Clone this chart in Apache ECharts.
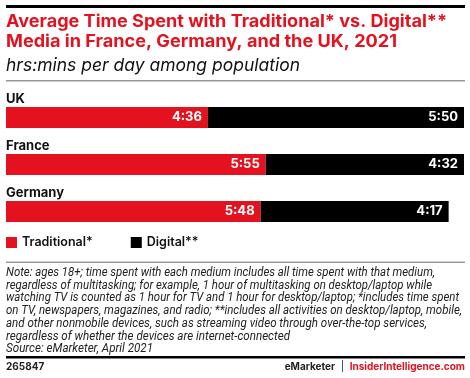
<!DOCTYPE html>
<html><head><meta charset="utf-8">
<script src="https://cdn.jsdelivr.net/npm/echarts@6/dist/echarts.min.js"></script>
<style>html,body{margin:0;padding:0;background:#fff}#c{width:470px;height:378px}</style>
</head><body><div id="c"></div>
<script>
var categories = ['UK', 'France', 'Germany'];
var traditional = [276, 355, 348];   // minutes: 4:36, 5:55, 5:48
var digital = [350, 272, 257];       // minutes: 5:50, 4:32, 4:17
var seriesNames = ['Traditional*', 'Digital**'];
var titleLines = ['Average Time Spent with Traditional* vs. Digital**', 'Media in France, Germany, and the UK, 2021'];
var subtitle = 'hrs:mins per day among population';
var noteLines = [
 'Note: ages 18+; time spent with each medium includes all time spent with that medium,',
 'regardless of multitasking; for example, 1 hour of multitasking on desktop/laptop while',
 'watching TV is counted as 1 hour for TV and 1 hour for desktop/laptop; *includes time spent',
 'on TV, newspapers, magazines, and radio; **includes all activities on desktop/laptop, mobile,',
 'and other nonmobile devices, such as streaming video through over-the-top services,',
 'regardless of whether the devices are internet-connected',
 'Source: eMarketer, April 2021'
];
// layout: right edge (px) of each text line in the reference
var titleRight = [447, 397];
var subtitleRight = 300;
var noteRight = [435, 432, 459, 462, 427, 290, 153];

var RED = '#e3121e';
var FONT = 'Inter, Roboto, sans-serif';
var NFONT = 'Roboto, sans-serif';
function fmt(v){ var h=Math.floor(v/60), m=v%60; return h+':'+(m<10?'0':'')+m; }
var ctx = document.createElement('canvas').getContext('2d');
function fitText(text, font, x, y, right, fill){
  ctx.font = font;
  var w = ctx.measureText(text).width;
  var s = (right - x) / w;
  return {type:'text', x:x, y:y, scaleX:s, originX:0, originY:0,
    style:{text:text, font:font, fill:fill, x:0, y:0, verticalAlign:'top', align:'left'}};
}

var chart = echarts.init(document.getElementById('c'));
var lbl = {show:true, position:'insideRight', distance:6, color:'#fff', fontFamily:FONT, fontWeight:'bold', fontSize:13, formatter:function(p){return fmt(p.value);}};
var graphics = [
 {type:'rect', shape:{x:6,y:5,width:459,height:3}, style:{fill:'#000'}},
 fitText(titleLines[0], 'bold 17px '+FONT, 6, 13, titleRight[0], RED),
 fitText(titleLines[1], 'bold 17px '+FONT, 6, 33, titleRight[1], RED),
 fitText(subtitle, 'italic 17.5px '+FONT, 6, 57, subtitleRight, '#111'),
 {type:'rect', shape:{x:6,y:80,width:459,height:1.5}, style:{fill:'#999'}},
 {type:'rect', shape:{x:6,y:261.5,width:459,height:1.5}, style:{fill:'#999'}},
 {type:'rect', shape:{x:6,y:356,width:459,height:2.5}, style:{fill:'#000'}},
 {type:'text', left:6, top:362, style:{text:'265847', font:'bold 10px '+FONT, fill:'#222'}},
 {type:'text', right:5, top:362, style:{rich:{a:{font:'bold 10px '+FONT, fill:'#222'}, b:{font:'10px '+FONT, fill:'#222'}, c:{font:'bold 10px '+FONT, fill:RED}}, text:'{a|eMarketer}{b|  |  }{c|InsiderIntelligence.com}'}}
];
noteLines.forEach(function(t,i){
 graphics.push(fitText(t, 'italic 12px '+NFONT, 6, 267+i*12.7, noteRight[i], '#222'));
});
chart.setOption({
 animation:false,
 grid:{left:6, width:458, top:94, height:141},
 xAxis:{type:'value', min:0, max:626, show:false},
 yAxis:{type:'category', data:categories, inverse:true, axisLine:{show:false}, axisTick:{show:false},
   axisLabel:{inside:true, margin:0, align:'left', verticalAlign:'bottom', padding:[0,0,12,0], color:'#111', fontFamily:FONT, fontWeight:'bold', fontSize:13}},
 legend:{left:6, top:236, padding:0, itemWidth:11, itemHeight:11, itemGap:38, icon:'rect', textStyle:{fontFamily:FONT, fontSize:12.5, fontWeight:600, color:'#111', padding:[0,0,0,0]}, data:seriesNames},
 series:[
  {name:seriesNames[0], type:'bar', stack:'t', data:traditional, barWidth:21, itemStyle:{color:RED}, label:lbl},
  {name:seriesNames[1], type:'bar', stack:'t', data:digital, barWidth:21, itemStyle:{color:'#000'}, label:lbl}
 ],
 graphic:graphics
});
</script></body></html>
